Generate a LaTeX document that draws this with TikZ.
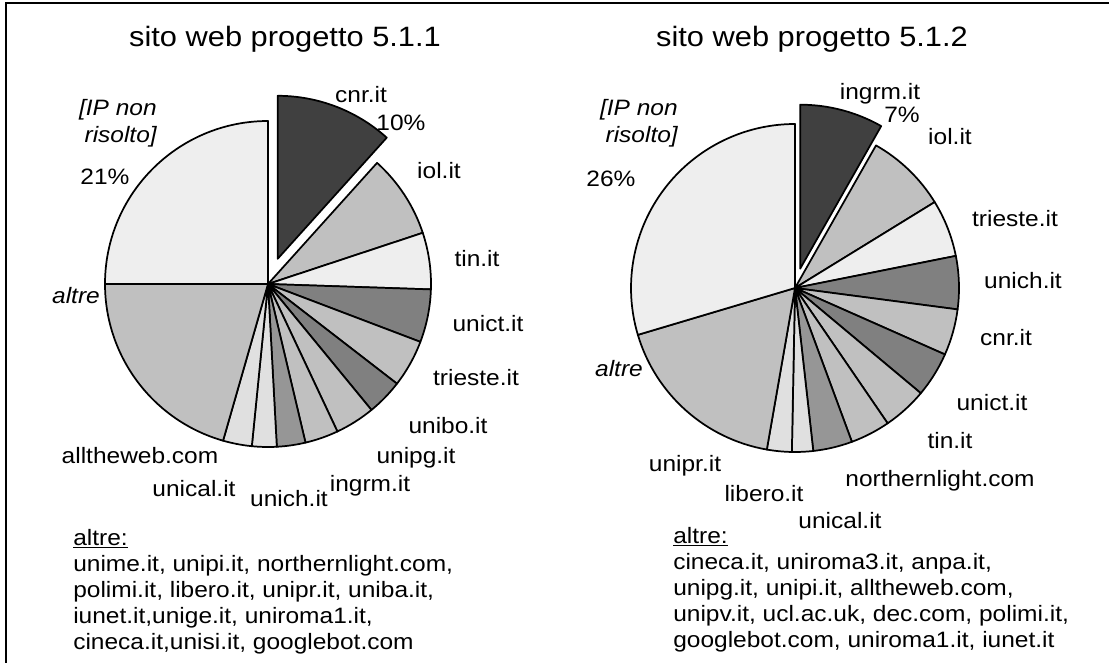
\documentclass[tikz,border=0pt]{standalone}
\usepackage{fontspec}
\setmainfont{Liberation Sans}[FakeStretch=1.1]
\usetikzlibrary{positioning}
\definecolor{SliceDark}{HTML}{404040}
\definecolor{SliceMid}{HTML}{808080}
\definecolor{SliceMidLight}{HTML}{969696}
\definecolor{SliceLight}{HTML}{C0C0C0}
\definecolor{SlicePale}{HTML}{E0E0E0}
\definecolor{SliceWhite}{HTML}{EEEEEE}
\tikzset{
  slice/.style={draw=black, line width=1.3pt, line join=round},
  lbl/.style={font=\fontsize{16.7}{19.5}\selectfont, inner sep=0pt, anchor=base},
  lblit/.style={lbl, font=\fontsize{16.7}{20.5}\selectfont\itshape},
  ttl/.style={font=\fontsize{21}{25}\selectfont, inner sep=0pt, anchor=base},
}

\begin{document}
\begin{tikzpicture}[x=0.75pt, y=-0.75pt]
\useasboundingbox (0,0) rectangle (1109,663);
% frame
\draw[line width=1.5pt] (6,663) -- (6,3) -- (1109,3);

% pie 5.1.1
\begin{scope}[shift={(268,284)}, yscale=-1]
  \foreach \a/\b/\c in {48/18.3/SliceLight, 18.3/-1.9/SliceWhite,
      -1.9/-20.8/SliceMid, -20.8/-37.7/SliceLight, -37.7/-50.6/SliceMid,
      -50.6/-64.8/SliceLight, -64.8/-76.7/SliceLight, -76.7/-86.9/SliceMidLight,
      -86.9/-95.7/SlicePale, -95.7/-106/SlicePale, -106/-180/SliceLight,
      -180/-270/SliceWhite}
    \filldraw[slice, fill=\c] (0,0) -- (\a:163) arc[start angle=\a, end angle=\b, radius=163] -- cycle;
  % exploded slice
  \filldraw[slice, fill=SliceDark, shift={(69:27)}] (0,0) -- (90:163) arc[start angle=90, end angle=48, radius=163] -- cycle;
\end{scope}

% pie 5.1.2
\begin{scope}[shift={(795,288)}, yscale=-1]
  \foreach \a/\b/\c in {60.4/31.6/SliceLight, 31.6/11.3/SliceWhite,
      11.3/-7.5/SliceMid, -7.5/-23.9/SliceLight, -23.9/-39.9/SliceMid,
      -39.9/-55.6/SliceLight, -55.6/-69.7/SliceLight, -69.7/-83.6/SliceMidLight,
      -83.6/-91.1/SlicePale, -91.1/-99.9/SlicePale, -99.9/-163.4/SliceLight,
      -163.4/-270/SliceWhite}
    \filldraw[slice, fill=\c] (0,0) -- (\a:164) arc[start angle=\a, end angle=\b, radius=164] -- cycle;
  % exploded slice
  \filldraw[slice, fill=SliceDark, shift={(75:20)}] (0,0) -- (90:164) arc[start angle=90, end angle=60.4, radius=164] -- cycle;
\end{scope}

% titles
\node[ttl] (title1) at (285,47) {sito web progetto 5.1.1};
\node[ttl] (title2) at (812,47) {sito web progetto 5.1.2};

% labels 5.1.1
\node[lbl] (cnr1) at (361,103) {cnr.it};
\node[lbl] (pct10) at (401,131) {10\%};
\node[lbl] (iol1) at (439,178) {iol.it};
\node[lbl] (tin1) at (477,266) {tin.it};
\node[lbl] (unict1) at (488,331) {unict.it};
\node[lbl] (trieste1) at (476,385) {trieste.it};
\node[lbl] (unibo1) at (448,433) {unibo.it};
\node[lbl] (unipg1) at (416,463) {unipg.it};
\node[lbl] (ingrm1) at (370,491) {ingrm.it};
\node[lbl] (unich1) at (289,506) {unich.it};
\node[lbl] (unical1) at (194,496) {unical.it};
\node[lbl] (alltheweb1) at (140,463) {alltheweb.com};
\node[lblit] (altre1) at (76,303) {altre};
\node[lbl] (pct21) at (105,185) {21\%};
\node[lblit, anchor=north east, align=right] (ip1) at (157,99) {[IP non\\risolto]};
\node[lbl, anchor=north west, align=left] (rest1) at (73,529)
  {\underline{altre:}\\unime.it, unipi.it, northernlight.com,\\polimi.it, libero.it, unipr.it, uniba.it,\\iunet.it,unige.it, uniroma1.it,\\cineca.it,unisi.it, googlebot.com};

% labels 5.1.2
\node[lbl] (ingrm2) at (880,100) {ingrm.it};
\node[lbl] (pct7) at (902,123) {7\%};
\node[lbl] (iol2) at (950,145) {iol.it};
\node[lbl] (trieste2) at (1015,226) {trieste.it};
\node[lbl] (unich2) at (1023,288) {unich.it};
\node[lbl] (cnr2) at (1006,345) {cnr.it};
\node[lbl] (unict2) at (992,410) {unict.it};
\node[lbl] (tin2) at (950,448) {tin.it};
\node[lbl] (northernlight2) at (940,486) {northernlight.com};
\node[lbl] (unical2) at (840,528) {unical.it};
\node[lbl] (libero2) at (764,501) {libero.it};
\node[lbl] (unipr2) at (685,471) {unipr.it};
\node[lblit] (altre2) at (619,376) {altre};
\node[lbl] (pct26) at (611,186) {26\%};
\node[lblit, anchor=north east, align=right] (ip2) at (678,99) {[IP non\\risolto]};
\node[lbl, anchor=north west, align=left] (rest2) at (673,527)
  {\underline{altre:}\\cineca.it, uniroma3.it, anpa.it,\\unipg.it, unipi.it, alltheweb.com,\\unipv.it, ucl.ac.uk, dec.com, polimi.it,\\googlebot.com, uniroma1.it, iunet.it};
\end{tikzpicture}
\end{document}
